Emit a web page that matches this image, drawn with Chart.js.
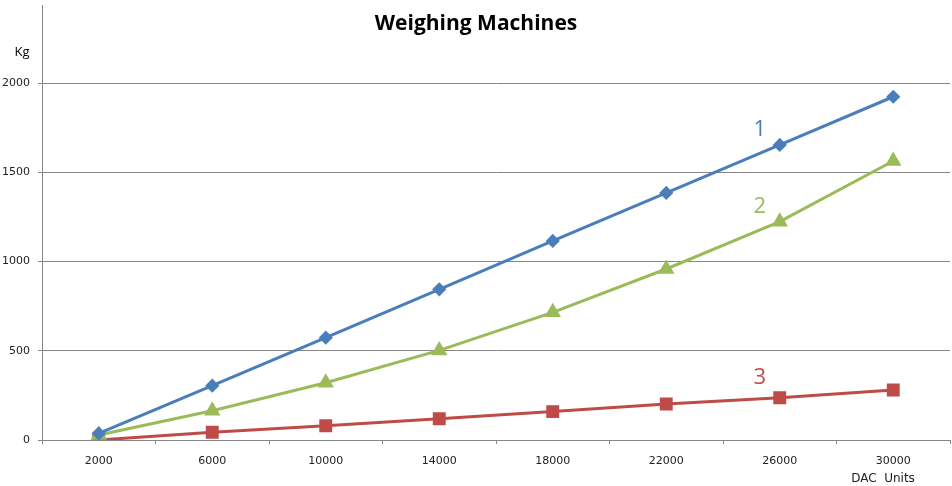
<!DOCTYPE html>
<html>
<head>
<meta charset="utf-8">
<script src="https://cdn.jsdelivr.net/npm/chart.js@4/dist/chart.umd.min.js"></script>
<style>
  html, body { margin: 0; padding: 0; background: #ffffff; }
  #wrap { width: 952px; height: 486px; position: relative; }
</style>
</head>
<body>
<div id="wrap"><canvas id="c"></canvas></div>
<script>
// DAC readings (x) against measured load in kg for three weighing machines
const dacUnits = ['2000', '6000', '10000', '14000', '18000', '22000', '26000', '30000'];
const machine1 = [37, 304, 573, 844, 1115, 1384, 1653, 1923];
const machine2 = [28, 164, 321, 502, 715, 958, 1223, 1563];
const machine3 = [0, 43, 80, 119, 159, 202, 237, 280];
const kgTicks = [0, 500, 1000, 1500, 2000];
const seriesNames = ['1', '2', '3'];

const BLUE = '#4A7EBB', GREEN = '#9BBB59', RED = '#BE4B48', GRID = '#868686';

// Title, axis captions and series numbers drawn on the canvas
const annotate = {
  id: 'annotate',
  afterDraw(chart) {
    const ctx = chart.ctx;
    const x = chart.scales.x, y = chart.scales.y;
    ctx.save();
    ctx.textAlign = 'center';
    ctx.textBaseline = 'middle';
    ctx.fillStyle = '#000';
    ctx.font = 'bold 21px "Open Sans", sans-serif';
    ctx.fillText('Weighing Machines', 476, 24);
    ctx.font = '13px "Open Sans", sans-serif';
    ctx.fillText('Kg', 22, 52);
    ctx.font = '12px "DejaVu Sans", sans-serif';
    ctx.fillStyle = '#222';
    ctx.fillText('DAC  Units', 883, 479);
    // series numbers next to the 26000 point of each line
    ctx.font = '22px "Open Sans", sans-serif';
    const px = x.getPixelForValue(6) - 20;
    const labels = [[seriesNames[0], BLUE, 1740], [seriesNames[1], GREEN, 1305], [seriesNames[2], RED, 350]];
    labels.forEach(([t, col, v]) => {
      ctx.fillStyle = col;
      ctx.fillText(t, px, y.getPixelForValue(v));
    });
    ctx.restore();
  }
};

new Chart(document.getElementById('c'), {
  type: 'line',
  data: {
    labels: dacUnits,
    datasets: [
      { label: seriesNames[0], data: machine1, borderColor: BLUE, backgroundColor: BLUE,
        pointStyle: 'rectRot', pointRadius: 5, pointHoverRadius: 5, borderWidth: 3 },
      { label: seriesNames[1], data: machine2, borderColor: GREEN, backgroundColor: GREEN,
        pointStyle: 'triangle', pointRadius: 6.5, pointHoverRadius: 6.5, borderWidth: 3 },
      { label: seriesNames[2], data: machine3, borderColor: RED, backgroundColor: RED,
        pointStyle: 'rect', pointRadius: 7, pointHoverRadius: 7, borderWidth: 3 }
    ]
  },
  options: {
    responsive: true,
    maintainAspectRatio: false,
    animation: false,
    layout: { autoPadding: false, padding: { left: 0, right: 2, top: 5, bottom: 0 } },
    elements: { line: { tension: 0 }, point: { borderWidth: 0 } },
    plugins: { legend: { display: false }, title: { display: false }, tooltip: { enabled: false } },
    scales: {
      x: {
        type: 'category',
        offset: true,
        grid: { offset: true, drawOnChartArea: false, drawTicks: true, tickLength: 4, color: GRID },
        border: { color: GRID, width: 1 },
        ticks: { color: '#222', padding: 11, maxRotation: 0, font: { family: '"DejaVu Sans", sans-serif', size: 11 } },
        afterFit(s) { s.height = 46; s.paddingLeft = 0; s.paddingRight = 0; }
      },
      y: {
        min: 0,
        max: 2437,
        afterBuildTicks(s) { s.ticks = kgTicks.map(v => ({ value: v })); },
        grid: { color: GRID, tickLength: 4, drawTicks: true },
        border: { color: GRID, width: 1 },
        ticks: { color: '#222', padding: 8, callback: v => String(v),
                 font: { family: '"DejaVu Sans", sans-serif', size: 11 } },
        afterFit(s) { s.width = 42; s.paddingTop = 0; s.paddingBottom = 0; }
      }
    }
  },
  plugins: [annotate]
});
</script>
</body>
</html>
